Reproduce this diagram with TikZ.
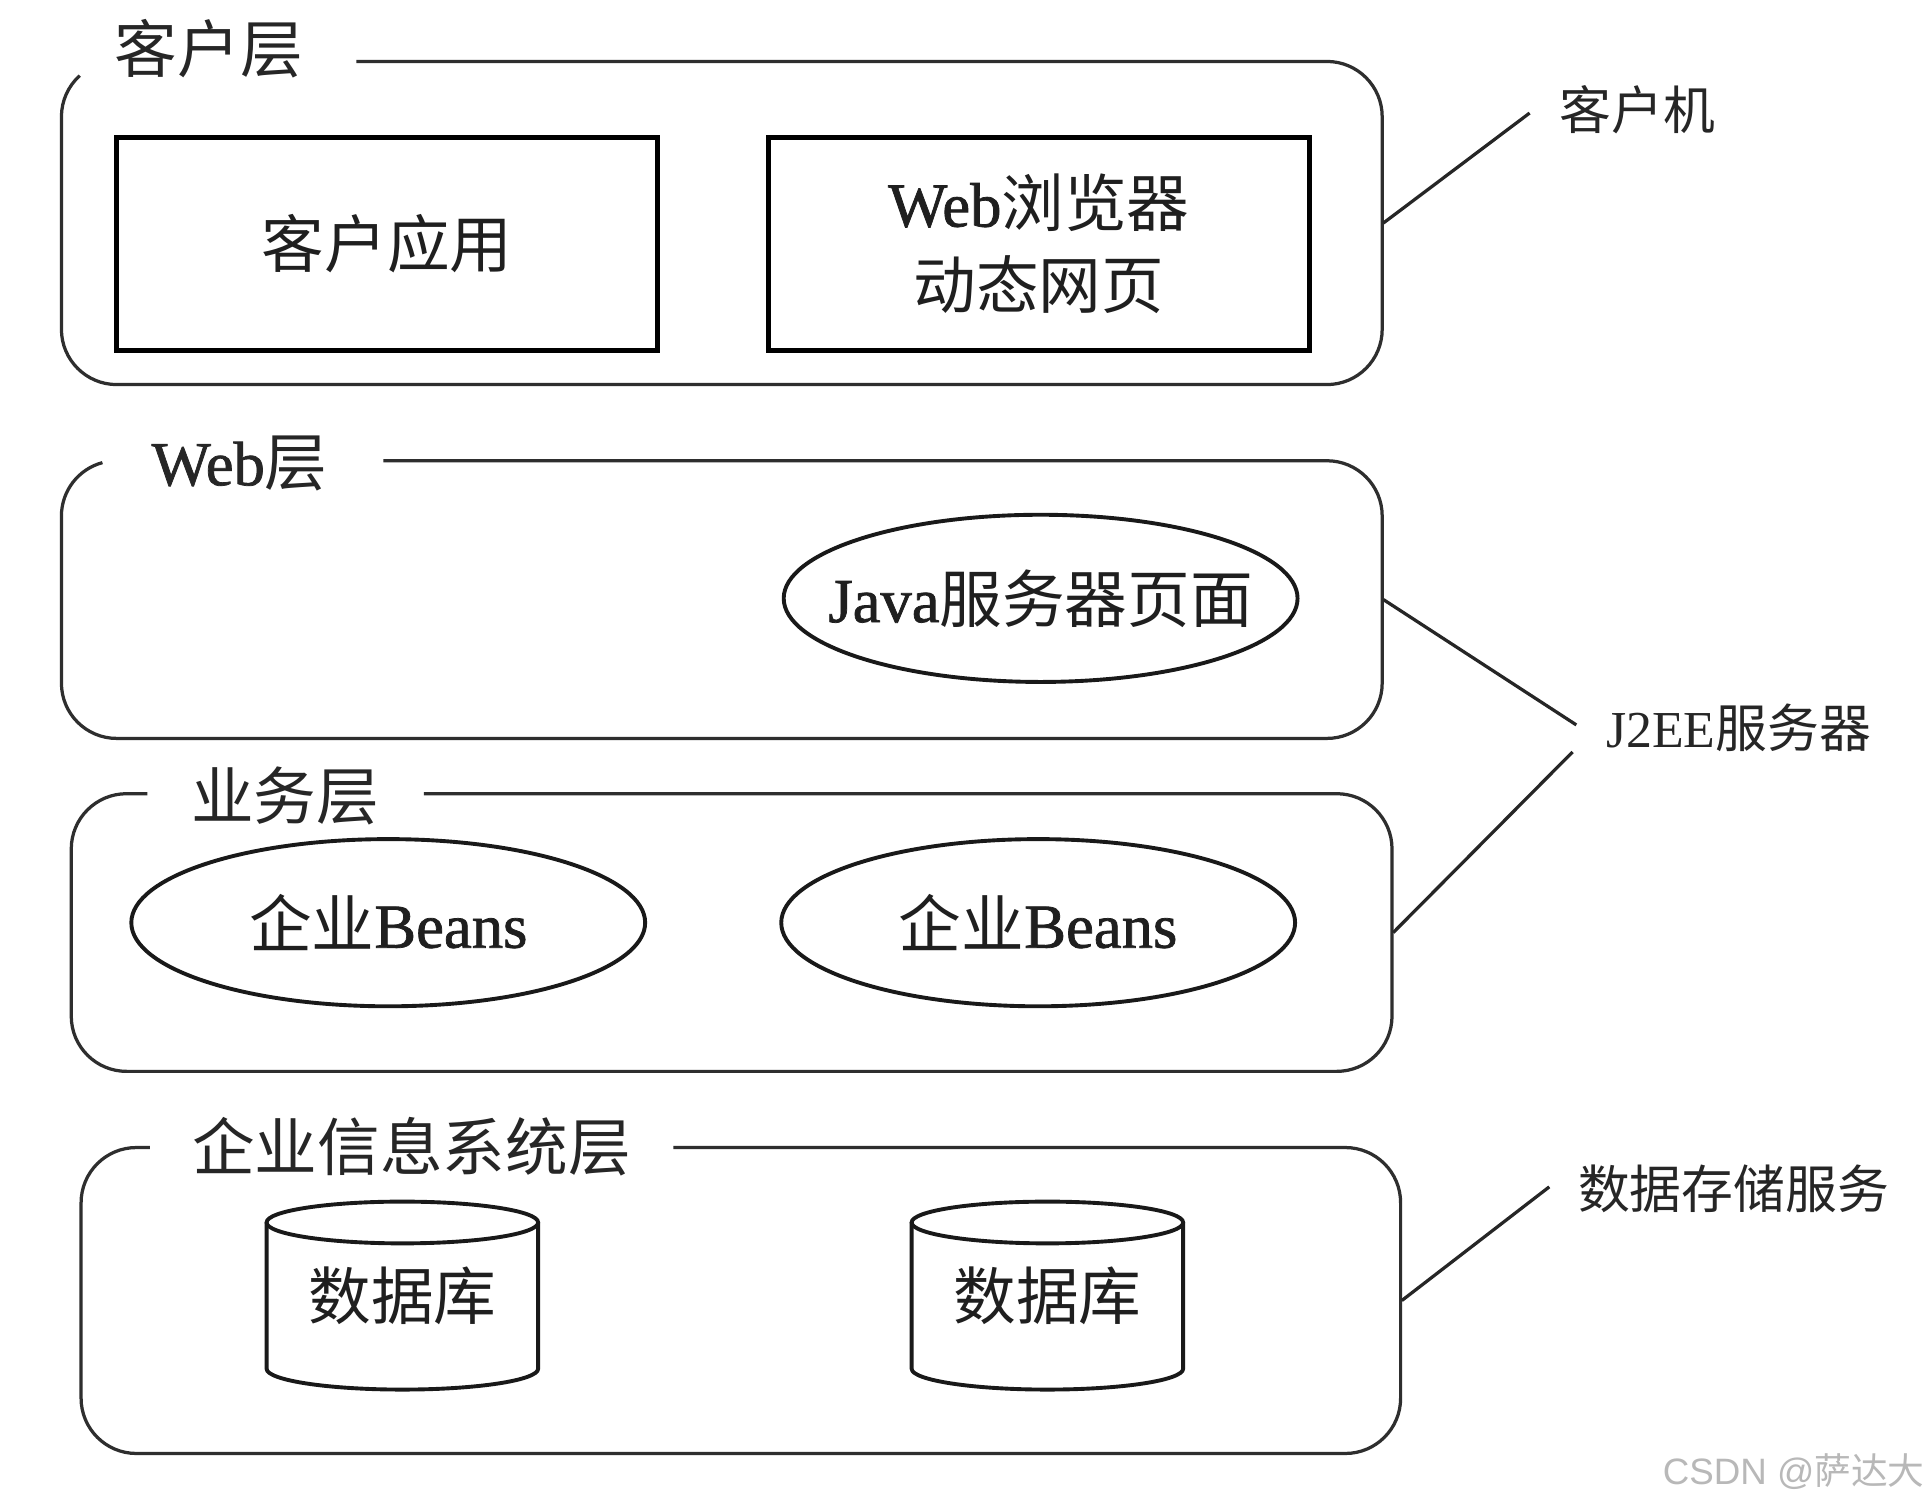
\documentclass[tikz,border=0pt]{standalone}
\usepackage{fontspec}
\setmainfont{Liberation Serif}
\newfontfamily\latb[FakeBold=1.2]{Liberation Serif}
\newfontfamily\cjk{Noto Sans CJK SC}
\newfontfamily\wmsans{Liberation Sans}
\usetikzlibrary{shapes.geometric}
\tikzset{
  outer/.style={draw=black!82, line width=0.75pt},
  conn/.style={draw=black!85, line width=0.75pt},
  layerbox/.style={rectangle, draw=none, inner sep=0pt},
  inbox/.style={rectangle, draw=black, line width=1.05pt, inner sep=0pt,
    minimum width=4.4cm, minimum height=1.73cm, align=center,
    font=\fontsize{14.5}{19}\selectfont, text=black!88},
  bean/.style={ellipse, draw=black!90, line width=0.9pt, inner ysep=0pt, inner xsep=-25pt,
    minimum width=4.18cm, minimum height=1.36cm,
    font=\fontsize{14.5}{19}\selectfont, text=black!88},
  layerlbl/.style={inner sep=0pt, font=\fontsize{14.5}{19}\selectfont, text=black!85},
  sidelbl/.style={inner sep=0pt, font=\fontsize{12}{15}\selectfont, text=black!85},
  dbtxt/.style={inner sep=0pt, font=\fontsize{14.5}{19}\selectfont, text=black!88},
  cyl/.style={draw=black!90, line width=0.9pt}
}
\begin{document}
\begin{tikzpicture}[x=0.01cm,y=-0.01cm]
\useasboundingbox[fill=white] (0,0) rectangle (1566,1224.2);

% ---------- layer outlines ----------
\draw[outer] (290,50) -- (1080,50) arc[start angle=270,end angle=360,radius=45]
  -- (1125,268) arc[start angle=0,end angle=90,radius=45]
  -- (95,313) arc[start angle=90,end angle=180,radius=45]
  -- (50,95) arc[start angle=180,end angle=228,radius=45];
\draw[outer] (312,375) -- (1080,375) arc[start angle=270,end angle=360,radius=45]
  -- (1125,556) arc[start angle=0,end angle=90,radius=45]
  -- (95,601) arc[start angle=90,end angle=180,radius=45]
  -- (50,420) arc[start angle=180,end angle=255,radius=45];
\draw[outer] (345,646) -- (1088,646) arc[start angle=270,end angle=360,radius=45]
  -- (1133,827) arc[start angle=0,end angle=90,radius=45]
  -- (103,872) arc[start angle=90,end angle=180,radius=45]
  -- (58,691) arc[start angle=180,end angle=270,radius=45] -- (120,646);
\draw[outer] (548,934) -- (1095,934) arc[start angle=270,end angle=360,radius=45]
  -- (1140,1138) arc[start angle=0,end angle=90,radius=45]
  -- (111,1183) arc[start angle=90,end angle=180,radius=45]
  -- (66,979) arc[start angle=180,end angle=270,radius=45] -- (122,934);

% layer anchors
\node[layerbox, minimum width=10.75cm, minimum height=2.63cm] (L1) at (587.5,181.5) {};
\node[layerbox, minimum width=10.75cm, minimum height=2.26cm] (L2) at (587.5,488) {};
\node[layerbox, minimum width=10.75cm, minimum height=2.26cm] (L3) at (595.5,759) {};
\node[layerbox, minimum width=10.74cm, minimum height=2.49cm] (L4) at (603,1058.5) {};

% layer labels
\node[layerlbl] (t1) at (170,40) {\cjk 客户层};
\node[layerlbl] (t2) at (195,377) {{\latb Web}{\cjk 层}};
\node[layerlbl] (t3) at (232,648) {\cjk 业务层};
\node[layerlbl] (t4) at (335,933) {\cjk 企业信息系统层};

% ---------- client layer ----------
\node[inbox] (app) at (315,198.5) {\cjk 客户应用};
\node[inbox] (web) at (845.5,198.5) {{\latb Web}{\cjk 浏览器}\\{\cjk 动态网页}};

% ---------- web layer ----------
\node[bean] (jsp) at (847,487) {{\latb Java}{\cjk 服务器页面}};

% ---------- business layer ----------
\node[bean] (eb1) at (316,751) {{\cjk 企业}{\latb Beans}};
\node[bean] (eb2) at (845,751) {{\cjk 企业}{\latb Beans}};

% ---------- EIS layer: databases ----------
\draw[cyl] (327.5,995) ellipse[x radius=110.5, y radius=17];
\draw[cyl] (217,995) -- (217,1114) arc[start angle=180,end angle=0,x radius=110.5,y radius=17] -- (438,995);
\node[dbtxt] (db1) at (327.5,1055) {\cjk 数据库};
\draw[cyl] (852.5,995) ellipse[x radius=110.5, y radius=17];
\draw[cyl] (742,995) -- (742,1114) arc[start angle=180,end angle=0,x radius=110.5,y radius=17] -- (963,995);
\node[dbtxt] (db2) at (852.5,1055) {\cjk 数据库};

% ---------- side labels & connectors ----------
\node[sidelbl] (s1) at (1333,89) {\cjk 客户机};
\node[sidelbl] (s2) at (1415,592) {J2EE{\cjk 服务器}};
\node[sidelbl] (s3) at (1411,968) {\cjk 数据存储服务};
\coordinate (c1) at (1245,92);
\coordinate (j1) at (1283,590);
\coordinate (j2) at (1280,612);
\coordinate (d1) at (1261,966);
\draw[conn] (L1.east) -- (c1);
\draw[conn] (L2.east) -- (j1);
\draw[conn] (L3.east) -- (j2);
\draw[conn] (L4.east) -- (d1);

% watermark
\node[inner sep=0pt, text=black!28, font=\fontsize{8.5}{10}\selectfont] (wm) at (1460,1198) {{\wmsans CSDN @}{\cjk 萨达大}};
\end{tikzpicture}
\end{document}
